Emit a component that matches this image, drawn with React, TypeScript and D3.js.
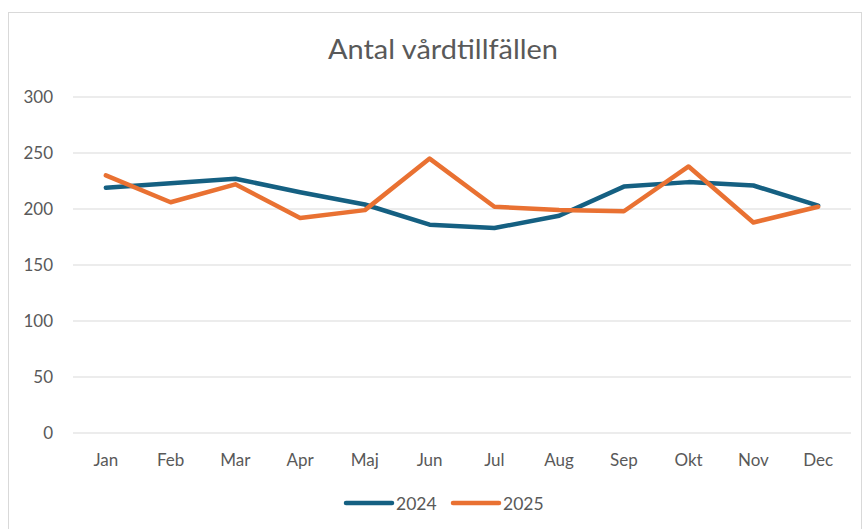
import React, { useEffect, useRef } from "react";
import * as d3 from "d3";

const months = ["Jan", "Feb", "Mar", "Apr", "Maj", "Jun", "Jul", "Aug", "Sep", "Okt", "Nov", "Dec"];
const values2024 = [219, 223, 227, 215, 204, 186, 183, 194, 220, 224, 221, 203];
const values2025 = [230, 206, 222, 192, 199, 245, 202, 199, 198, 238, 188, 202];
const yTicks = [0, 50, 100, 150, 200, 250, 300];
const seriesNames = ["2024", "2025"];
const colors = ["#156082", "#E97132"];

export default function App() {
  const ref = useRef<SVGSVGElement>(null);

  useEffect(() => {
    const width = 865;
    const height = 529;
    const svg = d3.select(ref.current);
    svg.selectAll("*").remove();
    svg.attr("width", width).attr("height", height);

    const font = "Lato, 'Open Sans', sans-serif";
    const textColor = "#595959";

    svg.append("rect").attr("width", width).attr("height", height).attr("fill", "#fff");
    // chart area border
    svg.append("rect")
      .attr("x", 8.5).attr("y", 12.5)
      .attr("width", 853).attr("height", 530)
      .attr("fill", "#fff").attr("stroke", "#d9d9d9");

    svg.append("text")
      .attr("x", 328).attr("y", 59)
      .attr("font-family", font)
      .attr("font-size", 26)
      .attr("textLength", 230)
      .attr("lengthAdjust", "spacingAndGlyphs")
      .attr("fill", textColor)
      .text("Antal vårdtillfällen");

    const x = d3.scalePoint<string>().domain(months).range([73.5, 850.5]).padding(0.5);
    const y = d3.scaleLinear().domain([0, 300]).range([433, 97]);

    const g = svg.append("g");
    g.selectAll("line.grid").data(yTicks).enter().append("line")
      .attr("class", "grid")
      .attr("x1", 73).attr("x2", 851)
      .attr("y1", d => y(d)).attr("y2", d => y(d))
      .attr("stroke", "#d9d9d9").attr("stroke-width", 1.2);

    g.selectAll("text.ylab").data(yTicks).enter().append("text")
      .attr("class", "ylab")
      .attr("x", 53).attr("y", d => y(d) + 6)
      .attr("text-anchor", "end")
      .attr("font-family", font).attr("font-size", 17)
      .attr("fill", textColor)
      .text(d => d);

    g.selectAll("text.xlab").data(months).enter().append("text")
      .attr("class", "xlab")
      .attr("x", d => x(d)!).attr("y", 466)
      .attr("text-anchor", "middle")
      .attr("font-family", font).attr("font-size", 17)
      .attr("fill", textColor)
      .text(d => d);

    const line = d3.line<number>()
      .x((d, i) => x(months[i])!)
      .y(d => y(d));

    [values2024, values2025].forEach((vals, i) => {
      g.append("path")
        .datum(vals)
        .attr("d", line)
        .attr("fill", "none")
        .attr("stroke", colors[i])
        .attr("stroke-width", 4.5)
        .attr("stroke-linejoin", "round")
        .attr("stroke-linecap", "round");
    });

    // legend
    const legendX = [346, 453];
    seriesNames.forEach((name, i) => {
      svg.append("line")
        .attr("x1", legendX[i]).attr("x2", legendX[i] + 46)
        .attr("y1", 503).attr("y2", 503)
        .attr("stroke", colors[i]).attr("stroke-width", 4.5)
        .attr("stroke-linecap", "round");
      svg.append("text")
        .attr("x", legendX[i] + 50).attr("y", 510)
        .attr("font-family", font).attr("font-size", 17.5)
        .attr("fill", textColor)
        .text(name);
    });
  }, []);

  return (
    <div style={{ position: "absolute", left: 0, top: 0 }}>
      <svg ref={ref} style={{ display: "block" }} />
    </div>
  );
}
